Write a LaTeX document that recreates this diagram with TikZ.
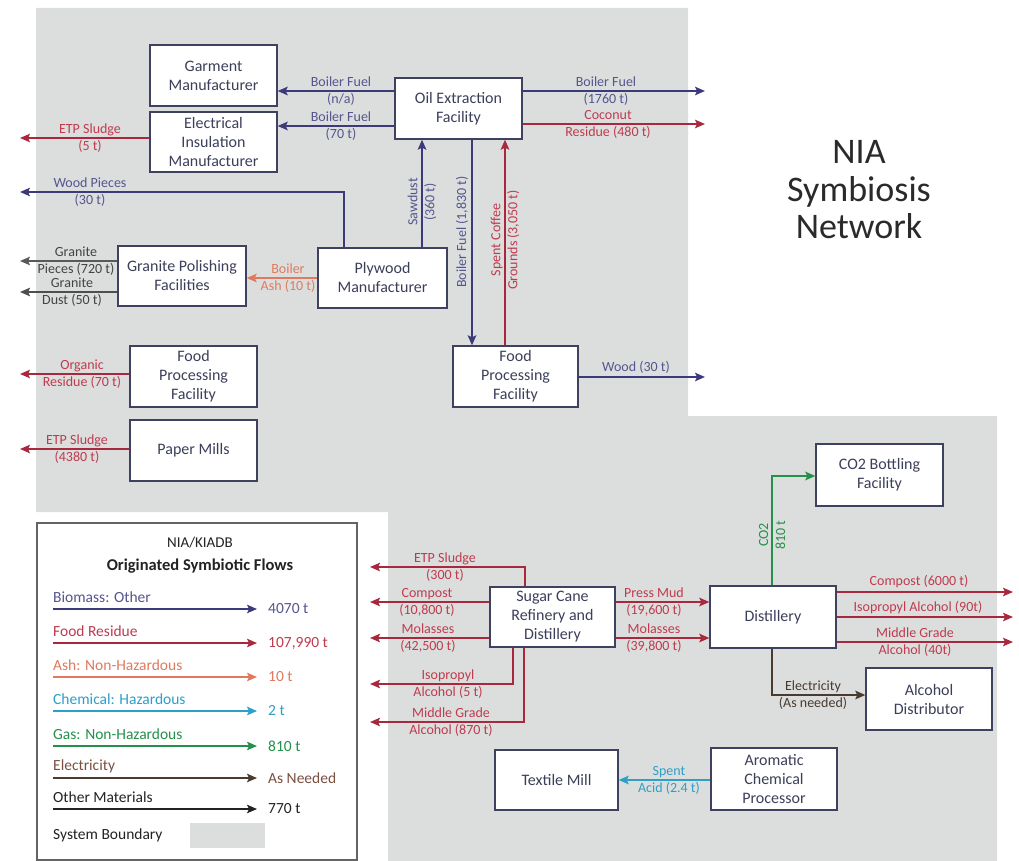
\documentclass[tikz,border=0pt]{standalone}
\usepackage{fontspec}
\setmainfont{Carlito}
\usetikzlibrary{arrows.meta,calc}
\definecolor{bgray}{HTML}{DCDEDD}
\definecolor{boxc}{HTML}{3E4260}
\definecolor{boxt}{HTML}{3C3F5A}
\definecolor{bio}{HTML}{3D3A7C}
\definecolor{biot}{HTML}{55558F}
\definecolor{food}{HTML}{A8283E}
\definecolor{foodt}{HTML}{BF3B4E}
\definecolor{ash}{HTML}{E07A5F}
\definecolor{chem}{HTML}{2E9FC6}
\definecolor{gas}{HTML}{25904A}
\definecolor{elec}{HTML}{4A3A30}
\definecolor{elect}{HTML}{7A5040}
\definecolor{oth}{HTML}{222222}
\definecolor{titc}{HTML}{2A2A2A}
\tikzset{
  flow/.style={line width=1.8pt,-{Stealth[length=10pt,width=8.5pt,inset=2pt]}},
  bioF/.style={flow,draw=bio,color=bio},
  foodF/.style={flow,draw=food,color=food},
  ashF/.style={flow,draw=ash,color=ash},
  chemF/.style={flow,draw=chem,color=chem},
  gasF/.style={flow,draw=gas,color=gas},
  elecF/.style={flow,draw=elec,color=elec},
  othF/.style={flow,draw=oth,color=oth},
  box/.style={draw=boxc,line width=1.3pt,fill=white,align=center,text=boxt,
    font=\fontsize{16}{19}\selectfont,inner sep=0pt},
  lbl/.style={align=center,font=\fontsize{14}{17}\selectfont,inner sep=0pt},
  leg/.style={anchor=west,font=\fontsize{15.5}{18}\selectfont,inner sep=0pt},
}
\begin{document}
\begin{tikzpicture}[x=1pt,y=-1pt]
\useasboundingbox (0,0) rectangle (1019,861);
% system boundary
\fill[bgray] (36,8) -- (688,8) -- (688,416) -- (997,416) -- (997,861)
  -- (388,861) -- (388,512) -- (36,512) -- cycle;

% title
\node[align=center,text=titc,font=\fontsize{36}{37.5}\selectfont] (title) at (859,190) {NIA\\Symbiosis\\Network};

% boxes
\node[box,minimum width=127pt,minimum height=61pt] (garment) at (213.5,75.5) {Garment\\Manufacturer};
\node[box,minimum width=127pt,minimum height=60pt] (elec) at (213.5,142) {Electrical\\Insulation\\Manufacturer};
\node[box,minimum width=127pt,minimum height=61pt] (oil) at (458.5,108.5) {Oil Extraction\\Facility};
\node[box,minimum width=129pt,minimum height=60pt] (plywood) at (382.5,278) {Plywood\\Manufacturer};
\node[box,minimum width=128pt,minimum height=60pt] (granite) at (182,276) {Granite Polishing\\Facilities};
\node[box,minimum width=127pt,minimum height=61pt] (foodL) at (193.5,376.5) {Food\\Processing\\Facility};
\node[box,minimum width=127pt,minimum height=61pt] (paper) at (193.5,450.5) {Paper Mills};
\node[box,minimum width=125pt,minimum height=61pt] (foodC) at (515.5,376.5) {Food\\Processing\\Facility};
\node[box,minimum width=125pt,minimum height=60pt] (sugar) at (552.5,617) {Sugar Cane\\Refinery and\\Distillery};
\node[box,minimum width=126pt,minimum height=62pt] (dist) at (773,617) {Distillery};
\node[box,minimum width=127pt,minimum height=62pt] (co2) at (879.5,475) {CO2 Bottling\\Facility};
\node[box,minimum width=126pt,minimum height=62pt] (alc) at (929,699) {Alcohol\\Distributor};
\node[box,minimum width=123pt,minimum height=60pt] (textile) at (556.5,780) {Textile Mill};
\node[box,minimum width=126pt,minimum height=62pt] (arom) at (774,779) {Aromatic\\Chemical\\Processor};

% coordinates
\coordinate (yA) at (0,91);
\coordinate (yB) at (0,126);
\coordinate (eA) at (705,91);
\coordinate (eC) at (705,124);
\coordinate (lD) at (20,138);
\coordinate (wp) at (344,192);
\coordinate (lWP) at (20,192);
\coordinate (sd) at (422,0);
\coordinate (bf) at (472,0);
\coordinate (sc) at (505,0);
\coordinate (lG1) at (20,261);
\coordinate (lG2) at (20,292);
\coordinate (lO) at (20,374);
\coordinate (lP) at (20,449);
\coordinate (rW) at (705,377);
\coordinate (s1) at (525,567);
\coordinate (lS1) at (370,567);
\coordinate (lS2) at (370,602);
\coordinate (lS3) at (370,638);
\coordinate (s4) at (513,684);
\coordinate (lS4) at (370,684);
\coordinate (s5) at (524,722);
\coordinate (lS5) at (370,722);
\coordinate (yPM) at (0,602);
\coordinate (yMo) at (0,638);
\coordinate (c1) at (772,476);
\coordinate (rD1) at (1013,592);
\coordinate (rD2) at (1013,617);
\coordinate (rD3) at (1013,642);
\coordinate (e1) at (772,695);
\coordinate (yS) at (0,780);

% upper flows
\draw[bioF] (oil.west |- yA) -- (garment.east |- yA);
\draw[bioF] (oil.west |- yB) -- (elec.east |- yB);
\draw[bioF] (oil.east |- eA) -- (eA);
\draw[foodF] (oil.east |- eC) -- (eC);
\draw[foodF] (elec.west |- lD) -- (lD);
\draw[bioF] (plywood.north -| wp) -- (wp) -- (lWP);
\draw[bioF] (plywood.north -| sd) -- (oil.south -| sd);
\draw[bioF] (oil.south -| bf) -- (foodC.north -| bf);
\draw[foodF] (foodC.north -| sc) -- (oil.south -| sc);
\draw[ashF] (plywood.west) -- (granite.east |- plywood.west);
\draw[othF,draw=oth!75] (granite.west |- lG1) -- (lG1);
\draw[othF,draw=oth!80,line width=2.2pt] (granite.west |- lG2) -- (lG2);
\draw[foodF] (foodL.west |- lO) -- (lO);
\draw[foodF] (paper.west |- lP) -- (lP);
\draw[bioF] (foodC.east |- rW) -- (rW);

% lower flows
\draw[foodF] (sugar.north -| s1) -- (s1) -- (lS1);
\draw[foodF] (sugar.west |- lS2) -- (lS2);
\draw[foodF] (sugar.west |- lS3) -- (lS3);
\draw[foodF] (sugar.south -| s4) -- (s4) -- (lS4);
\draw[foodF] (sugar.south -| s5) -- (s5) -- (lS5);
\draw[foodF] (sugar.east |- yPM) -- (dist.west |- yPM);
\draw[foodF] (sugar.east |- yMo) -- (dist.west |- yMo);
\draw[gasF] (dist.north -| c1) -- (c1) -- (co2.west |- c1);
\draw[foodF] (dist.east |- rD1) -- (rD1);
\draw[foodF] (dist.east |- rD2) -- (rD2);
\draw[foodF] (dist.east |- rD3) -- (rD3);
\draw[elecF] (dist.south -| e1) -- (e1) -- (alc.west |- e1);
\draw[chemF] (arom.west |- yS) -- (textile.east |- yS);

% labels upper
\node[lbl,text=biot] (l1) at (341,91) {Boiler Fuel\\(n/a)};
\node[lbl,text=biot] (l2) at (341,126) {Boiler Fuel\\(70 t)};
\node[lbl,text=biot] (l3) at (606,91) {Boiler Fuel\\(1760 t)};
\node[lbl,text=foodt] (l4) at (608,124) {Coconut\\Residue (480 t)};
\node[lbl,text=foodt] (l5) at (90,138) {ETP Sludge\\(5 t)};
\node[lbl,text=biot] (l6) at (90,192) {Wood Pieces\\(30 t)};
\node[lbl,text=biot,rotate=90] (l7) at (422,202) {Sawdust\\(360 t)};
\node[lbl,text=biot,rotate=90] (l8) at (462,232) {Boiler Fuel (1,830 t)};
\node[lbl,text=foodt,rotate=90] (l9) at (505,240) {Spent Coffee\\Grounds (3,050 t)};
\node[lbl,text=ash] (l10) at (288,278) {Boiler\\Ash (10 t)};
\node[lbl,text=oth!85] (l11) at (76,261) {Granite\\Pieces (720 t)};
\node[lbl,text=oth!85] (l12) at (72,292) {Granite\\Dust (50 t)};
\node[lbl,text=foodt] (l13) at (82,374) {Organic\\Residue (70 t)};
\node[lbl,text=foodt] (l14) at (77,449) {ETP Sludge\\(4380 t)};
\node[lbl,text=biot] (l15) at (636,367) {Wood (30 t)};

% labels lower
\node[lbl,text=foodt] (l16) at (445,567) {ETP Sludge\\(300 t)};
\node[lbl,text=foodt] (l17) at (427,602) {Compost\\(10,800 t)};
\node[lbl,text=foodt] (l18) at (428,638) {Molasses\\(42,500 t)};
\node[lbl,text=foodt] (l19) at (448,684) {Isopropyl\\Alcohol (5 t)};
\node[lbl,text=foodt] (l20) at (451,722) {Middle Grade\\Alcohol (870 t)};
\node[lbl,text=foodt] (l21) at (654,602) {Press Mud\\(19,600 t)};
\node[lbl,text=foodt] (l22) at (654,638) {Molasses\\(39,800 t)};
\node[lbl,text=gas,rotate=90] (l23) at (772,535) {CO2\\810 t};
\node[lbl,text=foodt] (l24) at (919,582) {Compost (6000 t)};
\node[lbl,text=foodt] (l25) at (918,608) {Isopropyl Alcohol (90t)};
\node[lbl,text=foodt] (l26) at (915,642) {Middle Grade\\Alcohol (40t)};
\node[lbl,text=elec] (l27) at (813,695) {Electricity\\(As needed)};
\node[lbl,text=chem] (l28) at (669,780) {Spent\\Acid (2.4 t)};

% legend
\node[draw=oth!70,line width=1.2pt,fill=white,minimum width=320pt,minimum height=337pt,inner sep=0pt] (legend) at (197,691.5) {};
\node[text=oth,font=\fontsize{15}{18}\selectfont] (legt1) at (200,543) {NIA/KIADB};
\node[text=oth,font=\bfseries\fontsize{16.5}{20}\selectfont] (legt2) at (200,566) {Originated Symbiotic Flows};
\foreach \i/\lc/\tc/\nm/\val/\ty in {
  1/bio/biot/{Biomass: Other}/{4070 t}/597,
  2/food/foodt/{Food Residue}/{107,990 t}/631,
  3/ash/ash/{Ash: Non-Hazardous}/{10 t}/665,
  4/chem/chem/{Chemical: Hazardous}/{2 t}/699,
  5/gas/gas/{Gas: Non-Hazardous}/{810 t}/734,
  6/elec/elect/{Electricity}/{As Needed}/766,
  7/oth/oth/{Other Materials}/{770 t}/797}{
  \node[leg,text=\tc] (lgt\i) at (53,\ty) {\nm};
  \coordinate (lga\i) at (53,\ty+12);
  \coordinate (lgb\i) at (257,\ty+12);
  \draw[flow,line width=1.4pt,draw=\lc,color=\lc] (lga\i) -- (lgb\i);
  \node[leg,text=\tc] (lgv\i) at (268,\ty+12) {\val};
}
\node[leg,text=oth] (lgsb) at (53,835) {System Boundary};
\node[fill=bgray,minimum width=75pt,minimum height=25pt,inner sep=0pt] (lgbox) at (227.5,835.5) {};
\end{tikzpicture}
\end{document}
